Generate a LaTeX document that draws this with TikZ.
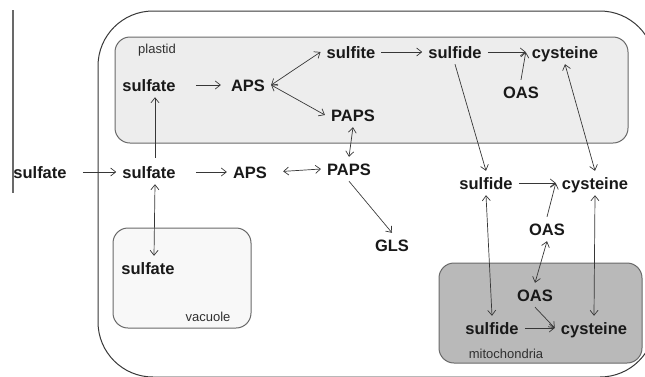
\documentclass[tikz,border=0pt]{standalone}
\usepackage{fontspec}
\setmainfont{Liberation Sans}
\usetikzlibrary{arrows.meta}
\definecolor{ink}{RGB}{25,25,25}
\definecolor{wire}{RGB}{55,55,55}
\definecolor{rim}{RGB}{105,105,105}
\definecolor{plastidfill}{RGB}{237,237,237}
\definecolor{vacfill}{RGB}{248,248,248}
\definecolor{mitofill}{RGB}{185,185,185}
\tikzset{
  >={Straight Barb[length=5pt,width=8pt]},
  met/.style={text=ink,font=\fontsize{16.5}{18}\selectfont\bfseries,
    inner xsep=6pt,inner ysep=6pt,text height=12pt,text depth=0pt},
  tag/.style={text=ink!90,font=\fontsize{13}{15}\selectfont,inner sep=0pt},
  flow/.style={->,line width=0.7pt,draw=wire},
  flow2/.style={<->,line width=0.7pt,draw=wire},
  compart/.style={draw=rim,line width=1pt,fill=#1,rounded corners=15pt},
}
\begin{document}
\begin{tikzpicture}[x=1pt,y=-1pt]
  \useasboundingbox (0,0) rectangle (645,376);
  \clip (0,0) rectangle (645,376);
  % membrane line and cell
  \draw[rim,line width=1.3pt] (13,10) -- (13,193);
  \draw[wire,line width=1pt,rounded corners=55pt] (98,11) rectangle (655,377);
  % compartments
  \draw[compart=plastidfill] (115,37) rectangle (628,143);
  \draw[compart=vacfill] (113,228) rectangle (251,328);
  \draw[compart=mitofill] (439,263) rectangle (642,363);
  \node[tag] (plastid) at (157,50) {plastid};
  \node[tag] (vacuole) at (208,317) {vacuole};
  \node[tag] (mito) at (506,354) {mitochondria};
  % metabolites
  \node[met] (osulf) at (40,172) {sulfate};
  \node[met] (csulf) at (149,172) {sulfate};
  \node[met] (caps) at (250,172) {APS};
  \node[met] (cpaps) at (349,169) {PAPS};
  \node[met] (gls) at (392,245) {GLS};
  \node[met] (psulf) at (149,85) {sulfate};
  \node[met] (paps) at (248,85) {APS};
  \node[met] (psulfite) at (351,52) {sulfite};
  \node[met] (psulfide) at (455,52) {sulfide};
  \node[met] (pcys) at (565,52) {cysteine};
  \node[met] (poas) at (521,92) {OAS};
  \node[met] (ppaps) at (353,115) {PAPS};
  \node[met] (csulfide) at (486,183) {sulfide};
  \node[met] (ccys) at (595,183) {cysteine};
  \node[met] (coas) at (547,229) {OAS};
  \node[met] (moas) at (535,295) {OAS};
  \node[met] (msulfide) at (492,328) {sulfide};
  \node[met] (mcys) at (594,328) {cysteine};
  \node[met] (vsulf) at (148,268) {sulfate};
  % transport and reactions
  \draw[flow,shorten <=10pt] (osulf.east) -- (csulf.west);
  \draw[flow,shorten <=2pt] ([xshift=6pt]csulf.north) -- ([xshift=6pt]psulf.south);
  \draw[flow2] ([xshift=6pt]csulf.south) -- ([xshift=6pt]vsulf.north);
  \draw[flow,shorten <=14pt] (csulf.east) -- (caps.west);
  \draw[flow2,shorten <=10pt] (caps.east) -- (cpaps.west);
  \draw[flow,shorten <=14pt,shorten >=4pt] (psulf.east) -- (paps.west);
  \draw[flow2] (paps.east) -- (psulfite.west);
  \draw[flow2] (paps.east) -- (ppaps.west);
  \draw[flow] (psulfite.east) -- (psulfide.west);
  \draw[flow] (psulfide.east) -- (pcys.west);
  \draw[flow] (poas.north) -- (pcys.west);
  \draw[flow] (psulfide.south) -- (csulfide.north);
  \draw[flow2] (pcys.south) -- (ccys.north);
  \draw[flow2] (ppaps.south) -- (cpaps.north);
  \draw[flow] (cpaps.south) -- (gls.north);
  \draw[flow] (csulfide.east) -- (ccys.west);
  \draw[flow] (coas.north) -- (ccys.west);
  \draw[flow2] (coas.south) -- (moas.north);
  \draw[flow2] (csulfide.south) -- (msulfide.north);
  \draw[flow2] (ccys.south) -- (mcys.north);
  \draw[flow] (msulfide.east) -- (mcys.west);
  \draw[flow] (moas.south) -- (mcys.west);
\end{tikzpicture}
\end{document}
